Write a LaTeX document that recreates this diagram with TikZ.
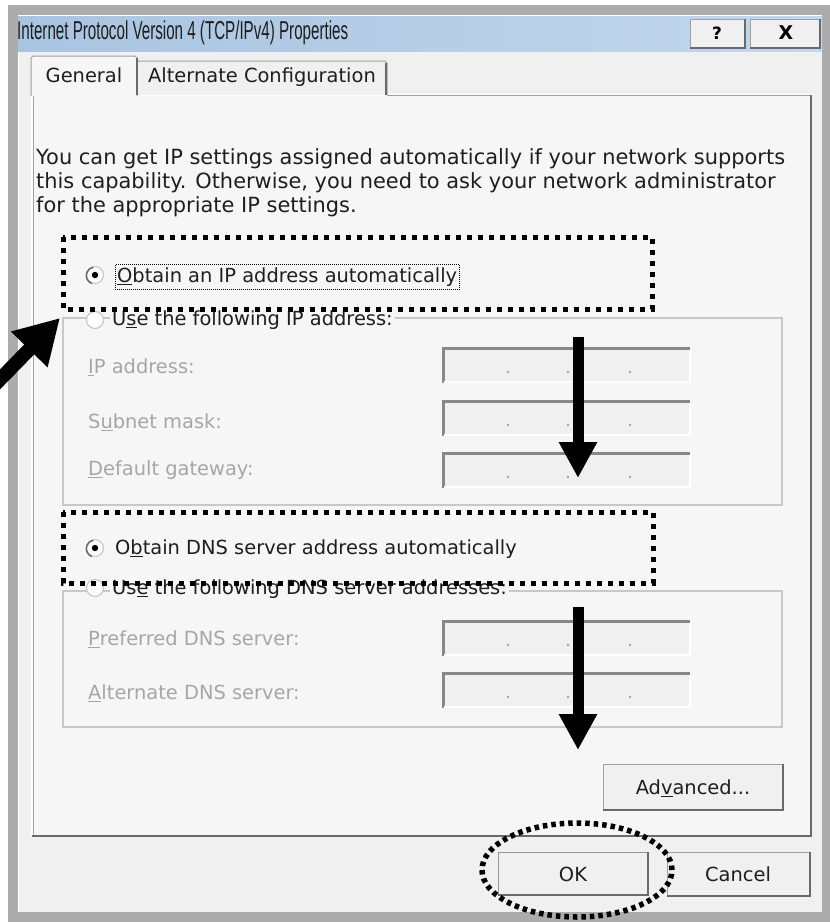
\documentclass[tikz,border=0pt]{standalone}
\usepackage{fontspec}
\setmainfont{DejaVu Sans}
\newfontfamily\titlefont[FakeStretch=0.585]{Liberation Sans}
\usetikzlibrary{arrows.meta,shapes.geometric}
\definecolor{framegray}{HTML}{ACACAC}
\definecolor{client}{HTML}{F0F0F0}
\definecolor{panelbg}{HTML}{F6F6F6}
\definecolor{titleL}{HTML}{A9C4E1}
\definecolor{titleR}{HTML}{C3D7EC}
\definecolor{txt}{HTML}{1E1E1E}
\definecolor{dis}{HTML}{A6A6A6}
\definecolor{edge}{HTML}{A0A0A0}
\definecolor{dark}{HTML}{6A6A6A}
\definecolor{grp}{HTML}{C8C8C8}
\tikzset{
  ui/.style={font=\fontsize{19.5}{22}\selectfont, text=txt, inner sep=0pt, anchor=west},
  para/.style={ui, font=\fontsize{21}{23}\selectfont},
  uidis/.style={ui, text=dis},
  dotbox/.style={draw=black, line width=5bp, dash pattern=on 5bp off 6bp},
  bigarrow/.style={line width=11bp, -{Triangle[length=36bp,width=36bp]}},
  btnface/.style={draw=edge, fill=client, line width=1bp},
  btnshade/.style={draw=dark, line width=2.5bp},
  fieldbox/.style={fill=client, draw=none},
  radio/.style={circle, draw=grp, fill=white, line width=1.2bp, minimum size=17bp, inner sep=0pt},
  grpline/.style={draw=grp, line width=1.2bp},
}
\begin{document}
\begin{tikzpicture}[x=1bp,y=-1bp]
\useasboundingbox (0,0) rectangle (830,922);
\fill[white] (0,0) rectangle (830,922);
% window frame
\fill[framegray] (8,5) rectangle (830,922);
\fill[client] (18,15) rectangle (822,912);
\draw[white, line width=1bp] (18.5,912) -- (18.5,15.5) -- (822,15.5);
% title bar
\shade[left color=titleL, right color=titleR] (18,16) rectangle (822,51);
\node[font=\titlefont\fontsize{26}{28}\selectfont, text=txt, inner sep=0pt, anchor=west] (title) at (17,33) {Internet Protocol Version 4 (TCP/IPv4) Properties};
% title buttons
\path[btnface] (690,19) rectangle (745,48);
\draw[btnshade] (690,48) -- (745,48) -- (745,19);
\node[font=\bfseries\fontsize{17}{19}\selectfont, inner sep=0pt] (help) at (717,33) {?};
\path[btnface] (750,19) rectangle (820,48);
\draw[btnshade] (750,48) -- (820,48) -- (820,19);
\node[font=\bfseries\fontsize{19}{21}\selectfont, inner sep=0pt] (close) at (786,33) {X};
% tab panel
\fill[panelbg] (32,95) rectangle (812,836);
\draw[white, line width=1.5bp] (32,836) -- (32,95) -- (812,95);
\draw[edge, line width=1bp] (33.5,836) -- (33.5,95.5) -- (137,95.5);
\draw[edge, line width=1bp] (387,95.5) -- (811,95.5);
\draw[dark, line width=2bp] (811,95) -- (811,836) -- (32,836);
% tabs
\path[fill=client, draw=edge, line width=1bp] (137,95) -- (137,61) -- (385,61) -- (387,63) -- (387,95);
\draw[dark, line width=1.5bp] (386,63) -- (386,95);
\path[fill=panelbg, draw=edge, line width=1bp] (31,96) -- (31,58) -- (33,56) -- (135,56) -- (137,58) -- (137,96);
\draw[dark, line width=1.5bp] (137,58) -- (137,95);
\node[ui, anchor=center] (tabgen) at (84,75) {General};
\node[ui, anchor=center] (tabalt) at (262,77) {Alternate Configuration};
% paragraph
\node[para] (p1) at (36,159) {You can get IP settings assigned automatically if your network supports};
\node[para] (p2) at (36,183) {this capability. Otherwise, you need to ask your network administrator};
\node[para] (p3) at (36,207) {for the appropriate IP settings.};
% option 1
\node[radio] (r1) at (95,275) {};
\fill[black] (r1) circle (3.2);
\draw[dark, line width=1.5bp] (r1.250) arc[start angle=-250, end angle=-100, radius=8.5];
\node[ui] (o1) at (117,277) {\underline{O}btain an IP address automatically};
\draw[black, line width=0.8bp, dash pattern=on 1bp off 1bp] (o1.south west) ++(-2,3) rectangle ([xshift=2bp,yshift=3bp]o1.north east);
% group box 1
\draw[grpline] (63,318) rectangle (782,505);
\node[ui, fill=panelbg, inner xsep=2bp, inner ysep=2bp] (u1) at (110,320) {U\underline{s}e the following IP address:};
\node[radio, fill=white] (r2) at (95,320) {};
\node[uidis] (l1) at (88,367) {\underline{I}P address:};
\node[uidis] (l2) at (88,422) {S\underline{u}bnet mask:};
\node[uidis] (l3) at (88,470) {\underline{D}efault gateway:};
% fields
\foreach \y/\n in {347/f1,400/f2,452/f3,620/f4,672/f5}{
  \path[fieldbox] (442,\y) rectangle (690,\y+36);
  \coordinate (\n) at (442,\y);
  \draw[dark!80, line width=3bp] (443.5,\y+36) -- (443.5,\y+1.5) -- (690,\y+1.5);
  \draw[white, line width=1.5bp] (444,\y+35) -- (690,\y+35) -- (690,\y+3);
  \foreach \x in {508,568,630}{ \fill[dis] (\x,\y+25) circle (1.4); }
}
% option 3
\node[radio] (r3) at (95,548) {};
\fill[black] (r3) circle (3.2);
\draw[dark, line width=1.5bp] (r3.250) arc[start angle=-250, end angle=-100, radius=8.5];
\node[ui] (o3) at (115,549) {O\underline{b}tain DNS server address automatically};
% group box 2
\draw[grpline] (63,591) rectangle (782,727);
\node[ui, fill=panelbg, inner xsep=2bp, inner ysep=2bp] (u2) at (110,589) {Us\underline{e} the following DNS server addresses:};
\node[radio, fill=white] (r4) at (95,588) {};
\node[uidis] (l4) at (88,639) {\underline{P}referred DNS server:};
\node[uidis] (l5) at (88,693) {\underline{A}lternate DNS server:};
% buttons
\path[btnface] (603,764) rectangle (783,810);
\draw[btnshade] (603,810) -- (783,810) -- (783,764);
\node[ui, anchor=center] (adv) at (693,788) {Ad\underline{v}anced...};
\path[btnface, draw=dark!70] (498,852) rectangle (648,895);
\draw[btnshade] (498,895) -- (648,895) -- (648,852);
\node[ui, anchor=center] (ok) at (573,874) {OK};
\path[btnface] (667,852) rectangle (810,896);
\draw[btnshade] (667,896) -- (810,896) -- (810,852);
\node[ui, anchor=center] (cancel) at (738,874) {Cancel};
% highlights
\draw[dotbox] (63,237) rectangle (652,309);
\draw[dotbox] (63,512) rectangle (653,583);
\node[ellipse, draw=black, line width=5.5bp, dash pattern=on 4.5bp off 4bp, minimum width=190bp, minimum height=94bp] (okring) at (577,870) {};
% arrows
\coordinate (a1s) at (578,337);
\coordinate (a1e) at (578,478);
\draw[bigarrow] (a1s) -- (a1e);
\coordinate (a2s) at (578,607);
\coordinate (a2e) at (578,750);
\draw[bigarrow] (a2s) -- (a2e);
\coordinate (a3s) at (-30,410);
\coordinate (a3e) at (60,318);
\draw[line width=14bp, -{Triangle[length=44bp,width=48bp]}] (a3s) -- (a3e);
\end{tikzpicture}
\end{document}
